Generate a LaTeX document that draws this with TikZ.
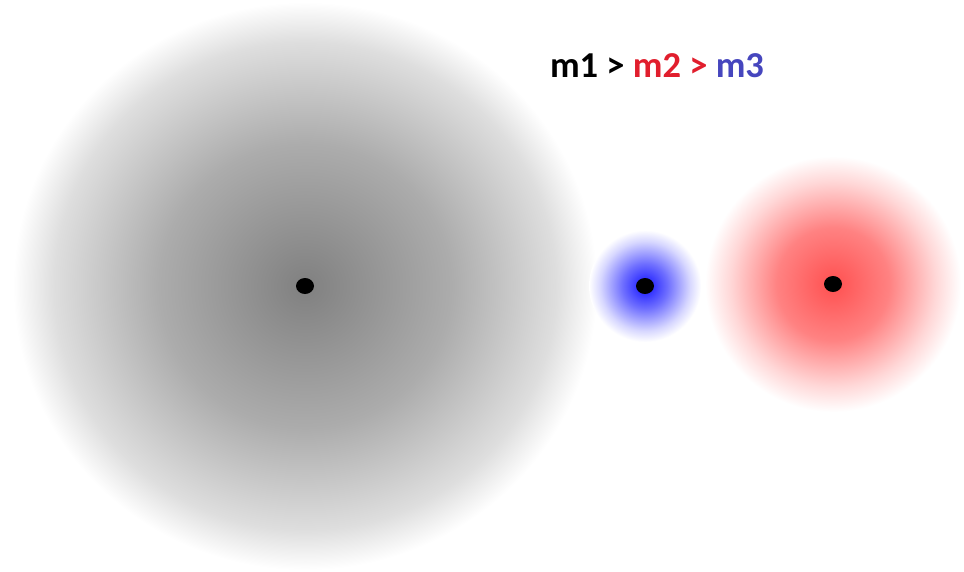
\documentclass[tikz,border=0pt]{standalone}
\usepackage{fontspec}
\setmainfont{Carlito}
\usetikzlibrary{shapes.geometric}
\definecolor{gA}{RGB}{128,128,128}
\definecolor{gB}{RGB}{172,172,172}
\definecolor{gC}{RGB}{222,222,222}
\definecolor{bA}{RGB}{20,20,255}
\definecolor{bB}{RGB}{110,110,255}
\definecolor{bC}{RGB}{215,215,255}
\definecolor{rA}{RGB}{255,80,80}
\definecolor{rB}{RGB}{255,130,130}
\definecolor{rC}{RGB}{255,215,215}
\definecolor{tred}{RGB}{225,30,45}
\definecolor{tblue}{RGB}{70,70,190}
\pgfdeclareradialshading{grayball}{\pgfpoint{0bp}{0bp}}{color(0bp)=(gA); color(12.5bp)=(gB); color(21.5bp)=(gC); color(25bp)=(white); color(50bp)=(white)}
\pgfdeclareradialshading{blueball}{\pgfpoint{0bp}{0bp}}{color(0bp)=(bA); color(10bp)=(bB); color(20bp)=(bC); color(25bp)=(white); color(50bp)=(white)}
\pgfdeclareradialshading{redball}{\pgfpoint{0bp}{0bp}}{color(0bp)=(rA); color(11bp)=(rB); color(20bp)=(rC); color(25bp)=(white); color(50bp)=(white)}
\tikzset{
  ball/.style={draw=none},
  mdot/.style={ellipse, fill=black, inner sep=0pt, minimum width=18pt, minimum height=16pt},
  label text/.style={font=\fontsize{36.5}{42}\selectfont\bfseries, inner sep=0pt}
}
\begin{document}
\begin{tikzpicture}[x=1pt,y=-1pt]
\useasboundingbox (0,0) rectangle (964,571);
\fill[white] (0,0) rectangle (964,571);
\shade[ball, shading=grayball] (305,286) ellipse [x radius=292, y radius=284];
\shade[ball, shading=redball] (833,284) ellipse [x radius=128, y radius=128];
\shade[ball, shading=blueball] (645,286) ellipse [x radius=56, y radius=56];
\node[mdot] (d1) at (305,286) {};
\node[mdot] (d3) at (645,286) {};
\node[mdot] (d2) at (833,284) {};
\node[label text] (title) at (657,66) {m1 > \textcolor{tred}{m2 >} \textcolor{tblue}{m3}};
\end{tikzpicture}
\end{document}
